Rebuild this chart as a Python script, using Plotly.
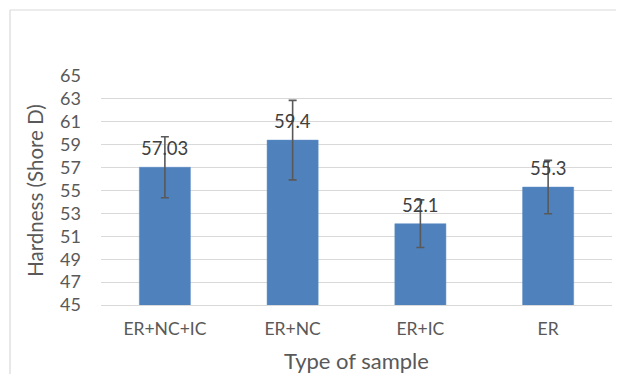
import plotly.graph_objects as go

categories = ["ER+NC+IC", "ER+NC", "ER+IC", "ER"]
hardness = [57.03, 59.4, 52.1, 55.3]
errors = [2.66, 3.47, 2.08, 2.33]
labels = ["57.03", "59.4", "52.1", "55.3"]
y_ticks = list(range(45, 66, 2))

FONT = "Lato"
fig = go.Figure()
fig.add_trace(go.Bar(
    x=categories, y=hardness, width=0.4,
    marker=dict(color="#4F81BD", line=dict(color="#5B8CC6", width=0.5)),
    error_y=dict(type="data", array=errors, visible=True, color="#595959", thickness=1.6, width=4),
    hoverinfo="skip",
))
for c, v, t in zip(categories, hardness, labels):
    fig.add_annotation(x=c, y=v, text=t, showarrow=False, yanchor="middle", yshift=19,
                       font=dict(family=FONT, size=18.5, color="#404040"))

# page has an 8px body margin, so the figure is sized to fill the rest of the window
W, H = 616, 366
L, R, T, B = 93, 12, 68, 69
pw, ph = W - L - R, H - T - B
bx = (2 - L) / pw
by = (H - B - 2) / ph
fig.add_shape(type="line", xref="paper", yref="paper", x0=bx, x1=bx, y0=by, y1=-0.5,
              line=dict(color="#D9D9D9", width=1.2))
fig.add_shape(type="line", xref="paper", yref="paper", x0=bx, x1=1.2, y0=by, y1=by,
              line=dict(color="#D9D9D9", width=1.2))

fig.update_layout(
    width=W, height=H, margin=dict(l=L, r=R, t=T, b=B, autoexpand=False),
    paper_bgcolor="white", plot_bgcolor="white", showlegend=False,
    font=dict(family=FONT, color="#595959"),
    bargap=0.6,
)
fig.update_yaxes(range=[45, 65], tickvals=y_ticks, showgrid=True, gridcolor="#D9D9D9", gridwidth=1,
                 zeroline=False, showline=False, ticks="", ticklabelstandoff=19, automargin=False,
                 tickfont=dict(family=FONT, size=18, color="#595959"),
                 title=dict(text="Hardness (Shore D)", font=dict(family=FONT, size=20.5, color="#595959"), standoff=10))
fig.update_xaxes(showline=True, linecolor="#D9D9D9", linewidth=1, ticks="", ticklabelstandoff=8,
                 automargin=False,
                 tickfont=dict(family=FONT, size=17.5, color="#595959"),
                 title=dict(text="Type of sample", font=dict(family=FONT, size=22, color="#595959"), standoff=16))
fig.write_html("out.html")
